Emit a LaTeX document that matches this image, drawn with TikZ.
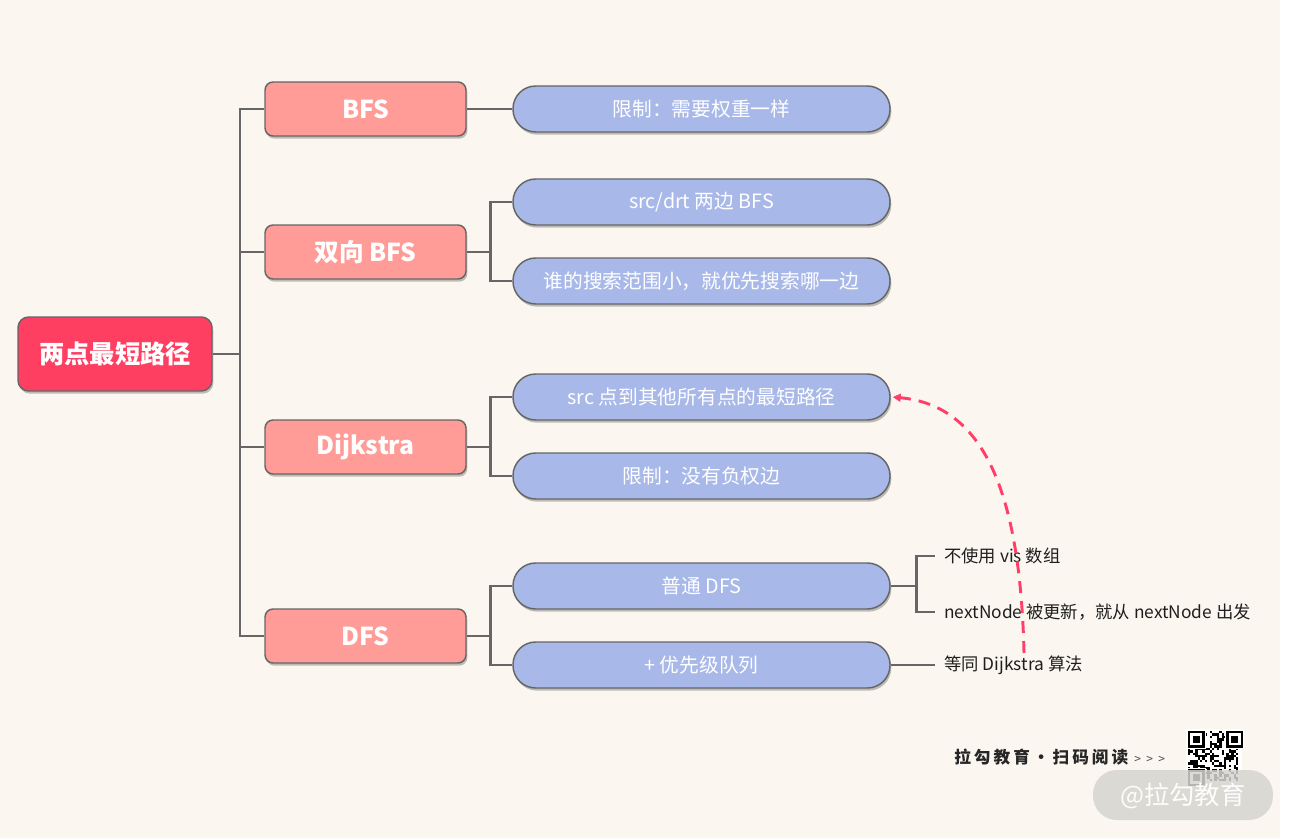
\documentclass[tikz,border=0pt]{standalone}
\usepackage{fontspec}
\setmainfont{Noto Sans CJK SC}
\usetikzlibrary{shadows,arrows.meta}
\definecolor{bg}{HTML}{FBF7F0}
\definecolor{rootc}{HTML}{FF3F62}
\definecolor{pinkc}{HTML}{FF9C98}
\definecolor{bluec}{HTML}{A8B8E8}
\definecolor{linec}{HTML}{666666}
\definecolor{dashc}{HTML}{FF3F6A}
\definecolor{leaft}{HTML}{1E1E1E}
\definecolor{pillc}{HTML}{D6D4CF}
\tikzset{
  shad/.style={drop shadow={shadow xshift=1pt,shadow yshift=-2pt,opacity=0.35,fill=black!70}},
  rootbox/.style={shad,draw=linec,line width=1.1pt,fill=rootc,rounded corners=8pt,
    minimum width=145.5pt,minimum height=55.5pt,inner sep=0pt,text=white,
    font=\fontsize{19}{22}\selectfont\bfseries},
  pinkbox/.style={shad,draw=linec,line width=1.1pt,fill=pinkc,rounded corners=6pt,
    minimum width=150.75pt,minimum height=40.5pt,inner sep=0pt,text=white,
    font=\fontsize{18.5}{21}\selectfont\bfseries},
  bluebox/.style={shad,draw=linec,line width=1.1pt,fill=bluec,rounded corners=17pt,
    minimum width=282.75pt,minimum height=34.5pt,inner sep=0pt,text=white,
    font=\fontsize{14.8}{17}\selectfont},
  leaf/.style={anchor=west,inner xsep=6.75pt,inner ysep=0pt,text=leaft,
    font=\fontsize{13}{15}\selectfont},
  conn/.style={draw=linec,line width=2.2pt},
  dashconn/.style={draw=dashc,line width=2.2pt,dash pattern=on 9pt off 6pt,
    -{Triangle[length=6pt,width=6pt]}},
}
\begin{document}
\begin{tikzpicture}[x=0.75pt,y=-0.75pt]
\fill[white] (0,0) rectangle (1292,838);
\fill[bg] (0,0) rectangle (1280,838);
\useasboundingbox (0,0) rectangle (1292,838);

% nodes
\node[rootbox] (root) at (115,354) {两点最短路径};
\node[pinkbox] (bfs)  at (365.5,109) {BFS};
\node[pinkbox] (bbfs) at (365.5,252) {双向 BFS};
\node[pinkbox] (dij)  at (365.5,447) {Dijkstra};
\node[pinkbox] (dfs)  at (365.5,636) {DFS};

\node[bluebox] (b11) at (701.5,109) {限制：需要权重一样};
\node[bluebox] (b21) at (701.5,202) {src/drt 两边 BFS};
\node[bluebox] (b22) at (701.5,281) {谁的搜索范围小，就优先搜索哪一边};
\node[bluebox] (b31) at (701.5,397) {src 点到其他所有点的最短路径};
\node[bluebox] (b32) at (701.5,476) {限制：没有负权边};
\node[bluebox] (b41) at (701.5,586) {普通 DFS};
\node[bluebox] (b42) at (701.5,665) {+ 优先级队列};

\node[leaf] (l1) at (935,556) {不使用 vis 数组};
\node[leaf] (l2) at (935,612) {nextNode 被更新，就从 nextNode 出发};
\node[leaf] (l3) at (935,665) {等同 Dijkstra 算法};

% connectors
\coordinate (t) at (240,354);
\draw[conn] (root.east) -- (t);
\foreach \n in {bfs,bbfs,dij,dfs} \draw[conn] (t) |- (\n.west);
\draw[conn] (bfs.east) -- (b11.west);
\draw[conn] (bbfs.east) -- ++(24,0) coordinate (j2);
\draw[conn] (j2) |- (b21.west);
\draw[conn] (j2) |- (b22.west);
\draw[conn] (dij.east) -- ++(24,0) coordinate (j3);
\draw[conn] (j3) |- (b31.west);
\draw[conn] (j3) |- (b32.west);
\draw[conn] (dfs.east) -- ++(24,0) coordinate (j4);
\draw[conn] (j4) |- (b41.west);
\draw[conn] (j4) |- (b42.west);
\draw[conn] (b41.east) -- ++(26,0) coordinate (j5);
\draw[conn] (j5) |- (l1.west);
\draw[conn] (j5) |- (l2.west);
\draw[conn] (b42.east) -- (l3.west);

% dashed arrow
\coordinate (ds) at (1024,653);
\draw[dashconn] (ds) .. controls (1020,480) and (978,405) .. ([xshift=1.5pt]b31.east);

% watermark
\node[anchor=west,inner sep=0pt,text=black!85,font=\fontsize{12.5}{15}\selectfont\bfseries\addfontfeatures{LetterSpace=18}] (wm) at (954,757) {拉勾教育·扫码阅读};
\node[anchor=west,inner sep=0pt,text=black!70,font=\fontsize{9}{10}\selectfont] (arr) at (1134,760) {>\hspace{4pt}>\hspace{4pt}>};

% QR code
\fill[white] (1186,729) rectangle (1242,783);
\pgfmathsetseed{12}
\foreach \i in {0,...,20}{
  \foreach \j in {0,...,20}{
    \pgfmathrandominteger{\r}{0}{1}
    \ifnum\r=1
      \fill[black] (1188+\i*2.4,731+\j*2.4) rectangle ++(2.4,2.4);
    \fi
  }
}
\foreach \px/\py in {1188/731, 1226.4/731, 1188/769.4}{
  \fill[white] (\px-1,\py-1) rectangle ++(18.8,18.8);
  \fill[black] (\px,\py) rectangle ++(16.8,16.8);
  \fill[white] (\px+2.4,\py+2.4) rectangle ++(12,12);
  \fill[black] (\px+4.8,\py+4.8) rectangle ++(7.2,7.2);
}

\fill[pillc,opacity=0.85,rounded corners=18pt] (1093,770) rectangle (1273,820);
\node[text=white!96!pillc,font=\fontsize{19}{22}\selectfont,inner sep=0pt] (pill) at (1183,796) {@拉勾教育};
\end{tikzpicture}
\end{document}
